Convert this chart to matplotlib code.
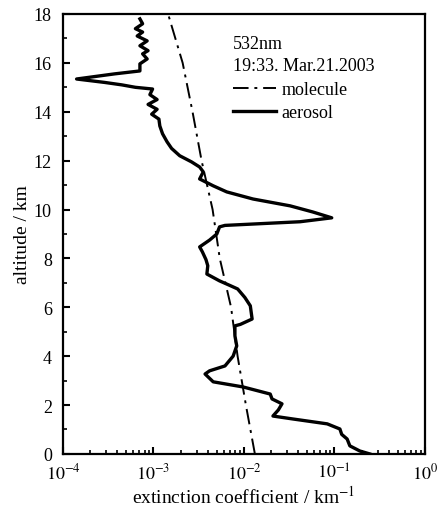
import numpy as np
import matplotlib
matplotlib.use("Agg")
import matplotlib.pyplot as plt
from matplotlib.ticker import MultipleLocator, LogLocator, NullFormatter

plt.rcParams['font.family'] = ['Liberation Serif', 'DejaVu Serif']
plt.rcParams['mathtext.fontset'] = 'stix'

# aerosol profile (altitude km, log10 of extinction km^-1)
aerosol_alt = [17.8, 17.6, 17.4, 17.26, 17.1, 16.9, 16.7, 16.5, 16.37, 16.16,
               15.96, 15.67, 15.55, 15.34, 15.2, 15.1, 15.0, 14.93, 14.7, 14.5,
               14.3, 14.1, 13.9, 13.7, 13.42, 13.1, 12.77, 12.5, 12.2, 11.95,
               11.74, 11.54, 11.25, 10.97, 10.72, 10.43, 10.15, 9.9, 9.66, 9.5,
               9.35, 9.29, 9.0, 8.75, 8.47, 8.27, 7.95, 7.7, 7.36, 7.08,
               6.9, 6.75, 6.4, 6.06, 5.52, 5.3, 5.24, 4.83, 4.42, 4.0,
               3.6, 3.4, 3.27, 2.95, 2.74, 2.45, 2.25, 2.05, 1.8, 1.55,
               1.43, 1.23, 1.02, 0.8, 0.61, 0.33, 0.12, 0.0]
aerosol_log = [-3.15, -3.12, -3.20, -3.12, -3.18, -3.07, -3.15, -3.06, -3.12, -3.07,
               -3.15, -3.15, -3.43, -3.85, -3.54, -3.35, -3.20, -3.01, -3.04, -2.96,
               -3.06, -2.96, -3.02, -2.94, -2.93, -2.90, -2.85, -2.80, -2.71, -2.58,
               -2.49, -2.45, -2.49, -2.34, -2.19, -1.90, -1.49, -1.24, -1.03, -1.38,
               -2.21, -2.27, -2.30, -2.38, -2.49, -2.46, -2.42, -2.40, -2.41, -2.27,
               -2.16, -2.07, -1.99, -1.93, -1.91, -2.04, -2.10, -2.10, -2.08, -2.12,
               -2.21, -2.38, -2.43, -2.34, -2.01, -1.71, -1.69, -1.58, -1.62, -1.68,
               -1.46, -1.08, -0.94, -0.92, -0.86, -0.83, -0.72, -0.61]

# molecular extinction
molecule_alt = [0, 2, 4, 6, 8, 10, 12, 14, 16, 18]
molecule_ext = [0.0132, 0.0105, 0.0085, 0.0072, 0.0054, 0.0045, 0.0034, 0.0027, 0.0021, 0.00145]

x_ticks = [1e-4, 1e-3, 1e-2, 1e-1, 1e0]
x_ticklabels = [r'$10^{-4}$', r'$10^{-3}$', r'$10^{-2}$', r'$10^{-1}$', r'$10^{0}$']

fig = plt.figure(figsize=(4.39, 5.10), dpi=100)
ax = fig.add_axes([0.1435, 0.108, 0.8245, 0.8626])

ax.plot(molecule_ext, molecule_alt, color='black', lw=1.4,
        linestyle=(0, (8, 3, 1.5, 3)), label='molecule')
ax.plot(10 ** np.array(aerosol_log), aerosol_alt, color='black', lw=2.4,
        label='aerosol')

ax.set_xscale('log')
ax.set_xlim(1e-4, 1e0)
ax.set_ylim(0, 18)
ax.set_xticks(x_ticks)
ax.set_xticklabels(x_ticklabels)
ax.xaxis.set_minor_locator(LogLocator(base=10, subs=np.arange(2, 10)))
ax.xaxis.set_minor_formatter(NullFormatter())
ax.yaxis.set_major_locator(MultipleLocator(2))
ax.yaxis.set_minor_locator(MultipleLocator(1))

ax.tick_params(which='both', direction='in', top=False, right=False, labelsize=13)
ax.tick_params(which='major', length=5, width=1.5)
ax.tick_params(which='minor', length=3, width=1.2)
ax.tick_params(axis='x', pad=6)
ax.tick_params(axis='y', pad=8)
for s in ax.spines.values():
    s.set_linewidth(1.6)

ax.set_xlabel('extinction coefficient / km$^{-1}$', fontsize=14, labelpad=2)
ax.set_ylabel('altitude / km', fontsize=14, labelpad=2)

ax.text(0.47, 0.932, '532nm', transform=ax.transAxes, fontsize=13, va='center')
ax.text(0.47, 0.884, '19:33. Mar.21.2003', transform=ax.transAxes, fontsize=13, va='center')
ax.legend(loc='upper left', bbox_to_anchor=(0.47, 0.848), frameon=False,
          fontsize=13, handlelength=2.4, handletextpad=0.3, labelspacing=0.35,
          borderpad=0, borderaxespad=0)

fig.savefig('out.png', dpi=100)
